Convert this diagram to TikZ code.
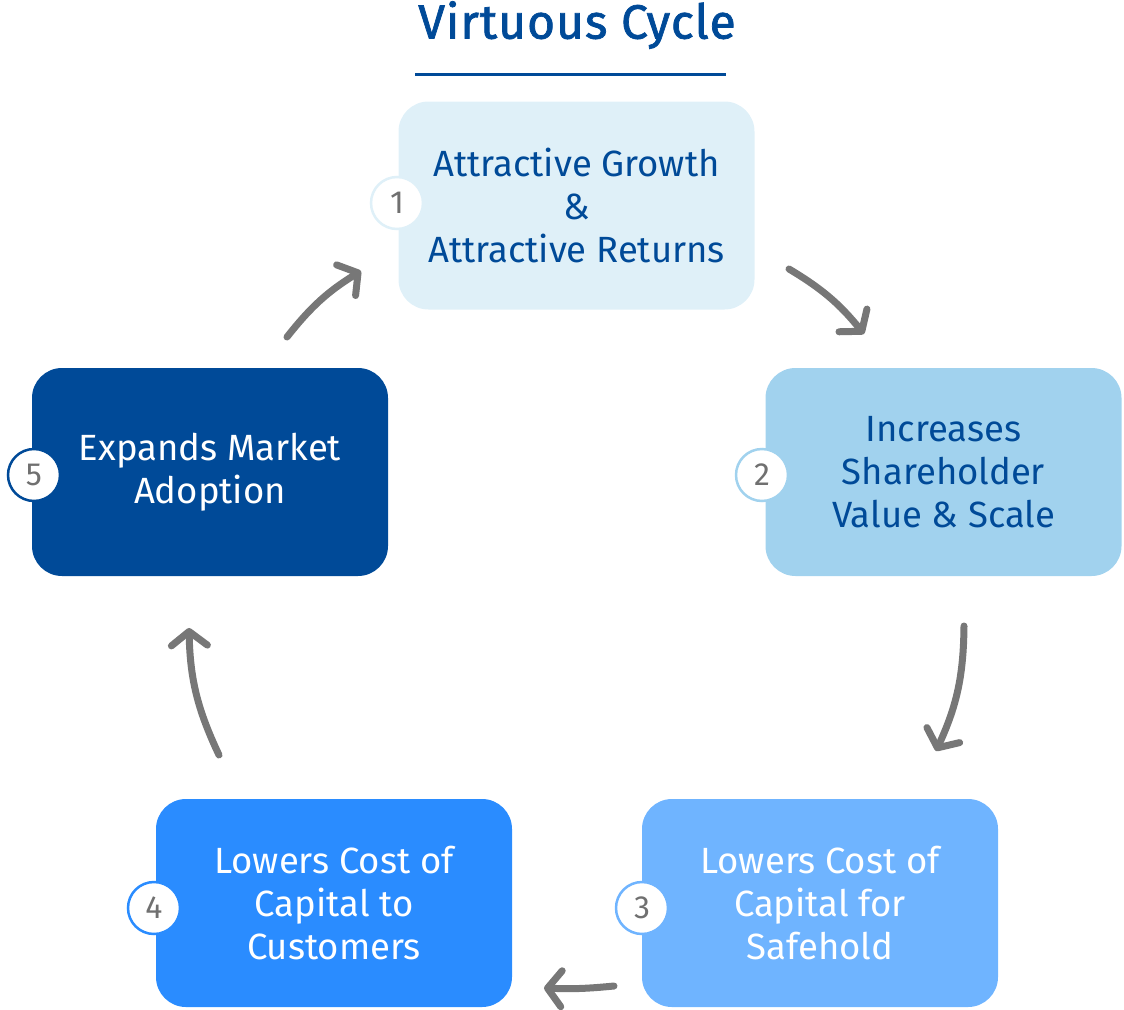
\documentclass[tikz,border=0pt]{standalone}
\usepackage{fontspec}
\setmainfont{Fira Sans}
\newfontfamily\titlefont{Fira Sans}[FakeBold=1.5, LetterSpace=2]
\usetikzlibrary{arrows.meta}
\definecolor{dblue}{HTML}{004A98}
\definecolor{c1}{HTML}{DFF0F8}
\definecolor{c2}{HTML}{A1D2EE}
\definecolor{c3}{HTML}{6FB4FF}
\definecolor{c4}{HTML}{2A8CFF}
\definecolor{c5}{HTML}{004A98}
\definecolor{agray}{HTML}{777777}
\definecolor{ngray}{HTML}{707070}
\begin{document}
\begin{tikzpicture}[x=1pt,y=-1pt,
  box/.style={rounded corners=30pt, minimum width=356pt, minimum height=208pt, inner sep=0pt,
    align=center, font=\fontsize{36.5}{43}\selectfont},
  badge/.style={circle, fill=white, line width=2.5pt, minimum size=52pt, inner sep=0pt,
    text=ngray, font=\fontsize{32}{32}\selectfont},
  cyc/.style={draw=agray, line width=7pt, line cap=round,
    -{Straight Barb[round, length=14pt, width=36pt]}}]
\useasboundingbox (0,0) rectangle (1124,1009);
\node[text=dblue, font=\titlefont\fontsize{48}{50}\selectfont] (title) at (577,25) {Virtuous Cycle};
\draw[dblue, line width=3pt] (415,74) -- (726,74);
\node[box, fill=c1, text=dblue] (n1) at (576.5,205.5) {Attractive Growth\\\&\\Attractive Returns};
\node[box, fill=c2, text=dblue] (n2) at (943.5,472) {Increases\\Shareholder\\Value \& Scale};
\node[box, fill=c3, text=white] (n3) at (820,903) {Lowers Cost of\\Capital for\\Safehold};
\node[box, fill=c4, text=white] (n4) at (334,903) {Lowers Cost of\\Capital to\\Customers};
\node[box, fill=c5, text=white] (n5) at (210,472) {Expands Market\\Adoption};
\node[badge, draw=c1] (b1) at (397,203) {1};
\node[badge, draw=c2] (b2) at (762,475) {2};
\node[badge, draw=c3] (b3) at (642,908) {3};
\node[badge, draw=c4] (b4) at (154,908) {4};
\node[badge, draw=c5] (b5) at (34,475) {5};
\coordinate (a1s) at (287,337); \coordinate (a1e) at (361,271);
\coordinate (a2s) at (789,269); \coordinate (a2e) at (864,334);
\coordinate (a3s) at (964,626); \coordinate (a3e) at (936,751);
\coordinate (a4s) at (614,986); \coordinate (a4e) at (544,988);
\coordinate (a5s) at (219,755); \coordinate (a5e) at (189,628);
\draw[cyc] (a1s) to[bend left=10] (a1e);
\draw[cyc] (a2s) to[bend left=10] (a2e);
\draw[cyc] (a3s) to[bend left=12] (a3e);
\draw[cyc] (a4s) to[bend left=4] (a4e);
\draw[cyc] (a5s) to[bend left=12] (a5e);
\end{tikzpicture}
\end{document}
